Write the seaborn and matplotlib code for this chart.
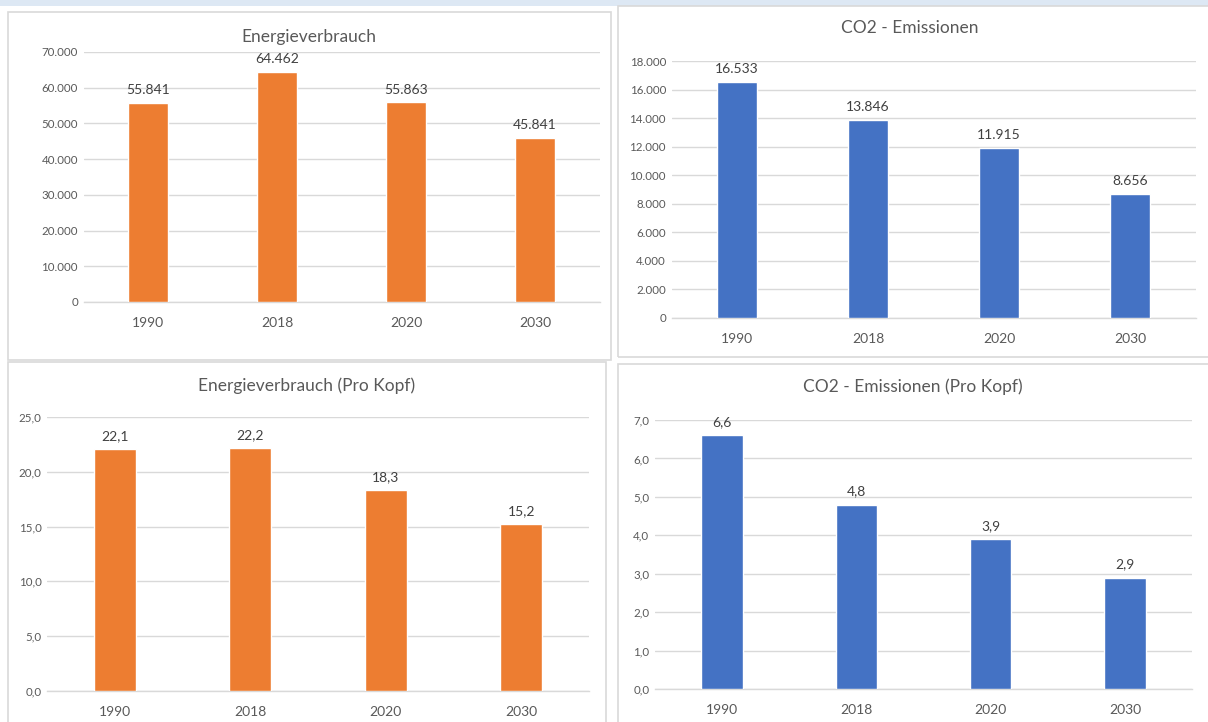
import matplotlib
matplotlib.use("Agg")
import matplotlib.pyplot as plt
from matplotlib.patches import Rectangle
import seaborn as sns
import pandas as pd

years = ["1990", "2018", "2020", "2030"]
energie = [55841, 64462, 55863, 45841]
co2 = [16533, 13846, 11915, 8656]
energie_kopf = [22.1, 22.2, 18.3, 15.2]
co2_kopf = [6.6, 4.8, 3.9, 2.9]

titles = ["Energieverbrauch", "CO2 - Emissionen",
          "Energieverbrauch (Pro Kopf)", "CO2 - Emissionen (Pro Kopf)"]

ORANGE = "#ED7D31"
BLUE = "#4472C4"
GRID = "#d9d9d9"
TXT = "#595959"

sns.set_theme(style="white")
plt.rcParams["font.family"] = ["Lato", "DejaVu Sans"]

W, H = 1208, 722
fig = plt.figure(figsize=(W / 100, H / 100), dpi=100)
fig.patch.set_facecolor("white")


def fx(x):
    return x / W


def fy(y):
    return 1 - y / H


# header strip
fig.patches.append(Rectangle((0, fy(6)), 1, 6 / H, transform=fig.transFigure,
                             facecolor="#dde8f4", edgecolor="none", zorder=-5))
# panel borders
for (x0, y0, x1, y1) in [(8, 12, 611, 360), (618, 6, 1212, 357),
                         (8, 362, 606, 726), (618, 364, 1212, 726)]:
    fig.patches.append(Rectangle((fx(x0), fy(y1)), (x1 - x0) / W, (y1 - y0) / H,
                                 transform=fig.transFigure, facecolor="none",
                                 edgecolor=GRID, linewidth=1.2, zorder=-5))


def fmt_thousands(v):
    return f"{int(round(v)):,}".replace(",", ".")


def fmt_dec(v):
    return f"{v:.1f}".replace(".", ",")


panels = [
    dict(rect=(83.5, 52, 599.5, 302), data=energie, color=ORANGE, ymax=70000, step=10000,
         fmt=fmt_thousands, title=titles[0], tpos=(309, 37), ticks=False),
    dict(rect=(671.5, 61, 1195.5, 318), data=co2, color=BLUE, ymax=18000, step=2000,
         fmt=fmt_thousands, title=titles[1], tpos=(910, 28), ticks=False),
    dict(rect=(47, 417, 589, 691), data=energie_kopf, color=ORANGE, ymax=25, step=5,
         fmt=fmt_dec, title=titles[2], tpos=(307, 386), ticks=True),
    dict(rect=(655, 420, 1192, 689), data=co2_kopf, color=BLUE, ymax=7, step=1,
         fmt=fmt_dec, title=titles[3], tpos=(913, 387), ticks=False),
]

for p in panels:
    x0, y0, x1, y1 = p["rect"]
    ax = fig.add_axes([fx(x0), fy(y1), (x1 - x0) / W, (y1 - y0) / H])
    ax.set_facecolor("none")
    df = pd.DataFrame({"Jahr": years, "Wert": p["data"]})
    sns.barplot(data=df, x="Jahr", y="Wert", color=p["color"], width=0.31,
                saturation=1, ax=ax, zorder=3)
    ax.set_xlim(-0.5, 3.5)
    ax.set_ylim(0, p["ymax"])
    n = int(round(p["ymax"] / p["step"]))
    yt = [i * p["step"] for i in range(n + 1)]
    ax.set_yticks(yt)
    ax.set_yticklabels([p["fmt"](v) for v in yt], fontsize=8.3, color=TXT)
    ax.grid(axis="y", color=GRID, linewidth=1, zorder=0)
    ax.set_axisbelow(True)
    for s in ["top", "right", "left"]:
        ax.spines[s].set_visible(False)
    ax.spines["bottom"].set_color(GRID)
    ax.spines["bottom"].set_linewidth(1)
    ax.set_xlabel("")
    ax.set_ylabel("")
    ax.tick_params(axis="y", length=0, pad=4)
    ax.tick_params(axis="x", length=0, pad=11, labelsize=10, labelcolor=TXT)
    if p["ticks"]:
        ax.set_xticks([-0.5, 0.5, 1.5, 2.5, 3.5], minor=True)
        ax.tick_params(axis="x", which="minor", length=4, color=GRID, width=1)
    for i, v in enumerate(p["data"]):
        ax.annotate(p["fmt"](v), (i, v), xytext=(0, 5), textcoords="offset points",
                    ha="center", va="bottom", fontsize=10, color="#404040")
    fig.text(fx(p["tpos"][0]), fy(p["tpos"][1]), p["title"], ha="center", va="center",
             fontsize=12.5, color=TXT)

fig.savefig("out.png", dpi=100)
